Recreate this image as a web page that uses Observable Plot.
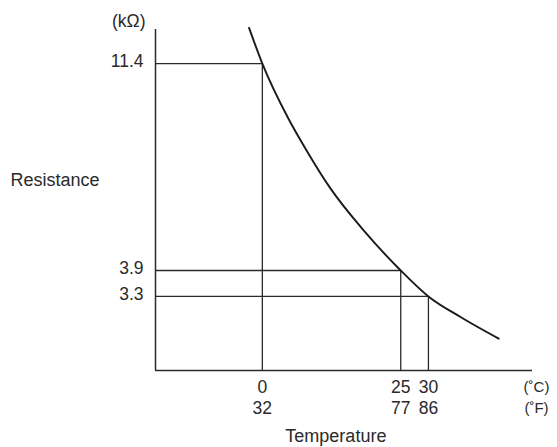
<!DOCTYPE html>
<html>
<head>
<meta charset="utf-8">
<script src="https://cdn.jsdelivr.net/npm/d3@7"></script>
<script src="https://cdn.jsdelivr.net/npm/@observablehq/plot@0.6"></script>
<style>
  html, body { margin: 0; padding: 0; background: #fff; }
  svg { display: block; }
</style>
</head>
<body>
<div id="chart"></div>
<script>
// Marked points on the thermistor curve
const tempC = [0, 25, 30];
const tempF = [32, 77, 86];
const resistance = [11.4, 3.9, 3.3];

// Curve (°C, kΩ)
const curveTemp = [-2.4, 0, 4.7, 7.8, 12.3, 18.3, 25, 30, 35.8, 42.7];
const curveRes  = [13.26, 11.4, 8.89, 7.68, 6.26, 4.96, 3.9, 3.3, 2.87, 2.46];

// Axis extents (data units)
const xDomain = [-19.3, 48.8];
const yDomain = [1.93, 13.17];

const marked = tempC.map((c, i) => ({c, f: tempF[i], r: resistance[i]}));
const curve = curveTemp.map((t, i) => ({t, r: curveRes[i]}));

const font = "'Liberation Sans', Arial, Helvetica, sans-serif";
const fs = 17.5;
const ink = "#2a2a2a";

const chart = Plot.plot({
  width: 557,
  height: 447,
  marginLeft: 155,
  marginRight: 25,
  marginTop: 29,
  marginBottom: 77,
  style: {background: "#fff", fontFamily: font, fontSize: fs + "px", color: ink},
  x: {domain: xDomain, axis: null},
  y: {type: "pow", exponent: 0.34, domain: yDomain, axis: null},
  marks: [
    // guide lines
    Plot.ruleY(marked, {y: "r", x1: xDomain[0], x2: "c", stroke: ink, strokeWidth: 1.3}),
    Plot.ruleX(marked, {x: "c", y1: yDomain[0], y2: "r", stroke: ink, strokeWidth: 1.3}),
    // axis lines
    Plot.ruleX([xDomain[0]], {y1: yDomain[0], y2: yDomain[1], stroke: ink, strokeWidth: 1.5}),
    Plot.ruleY([yDomain[0]], {x1: xDomain[0], x2: xDomain[1], stroke: ink, strokeWidth: 1.5}),
    // curve
    Plot.line(curve, {x: "t", y: "r", curve: "monotone-x", stroke: "#1a1a1a", strokeWidth: 1.9}),
    // y tick labels
    Plot.text(marked, {x: xDomain[0], y: "r", text: d => d.r.toFixed(1), textAnchor: "end", dx: -12, dy: -2, fill: ink, fontSize: fs}),
    // x tick labels (°C and °F rows)
    Plot.text(marked, {x: "c", y: yDomain[0], text: d => String(d.c), dy: 17, fill: ink, fontSize: fs}),
    Plot.text(marked, {x: "c", y: yDomain[0], text: d => String(d.f), dy: 38, fill: ink, fontSize: fs}),
    // unit labels
    Plot.text(["(˚C)"], {x: xDomain[1], y: yDomain[0], text: d => d, textAnchor: "middle", dx: 4, dy: 17, fill: ink, fontSize: 15, letterSpacing: "-1px"}),
    Plot.text(["(˚F)"], {x: xDomain[1], y: yDomain[0], text: d => d, textAnchor: "middle", dx: 4, dy: 38, fill: ink, fontSize: 15, letterSpacing: "-1px"}),
    Plot.text(["(kΩ)"], {frameAnchor: "top-left", text: d => d, textAnchor: "end", lineAnchor: "middle", dx: -10, dy: -8, fill: ink, fontSize: fs}),
    // axis titles
    Plot.text(["Resistance"], {frameAnchor: "left", text: d => d, textAnchor: "start", dx: -145, dy: -20, fill: ink, fontSize: 18}),
    Plot.text(["Temperature"], {x: tempC[0], y: yDomain[0], text: d => d, textAnchor: "start", dx: 23, dy: 66, fill: ink, fontSize: 18})
  ]
});
document.getElementById("chart").appendChild(chart);
</script>
</body>
</html>
